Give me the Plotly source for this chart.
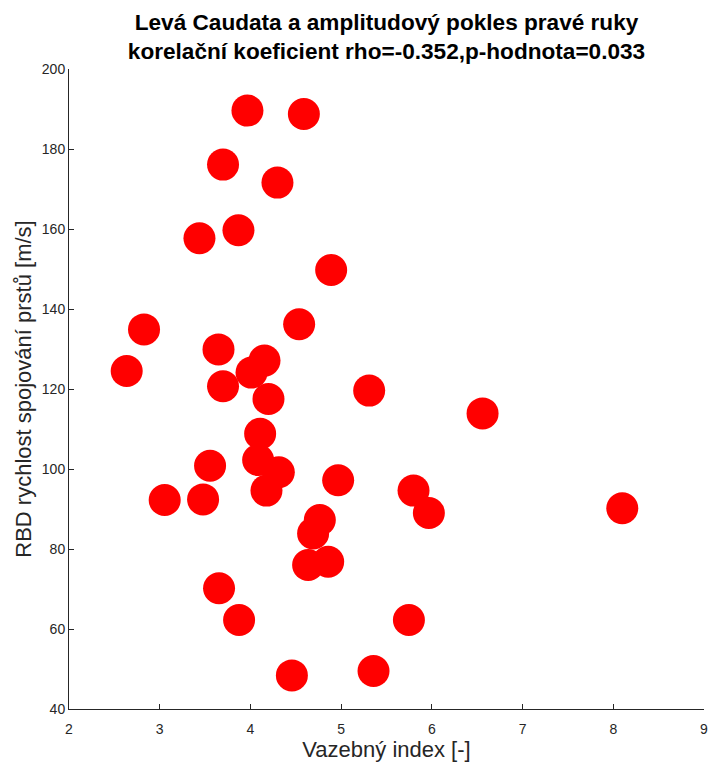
import plotly.graph_objects as go

# Coupling index (x) vs. RBD finger-tapping speed (y), one point per subject
vazebny_index = [
    3.967, 4.589, 3.698, 4.298, 3.868, 3.438, 4.890,
    2.827, 4.537, 3.648, 2.636, 4.155, 4.012, 3.698, 4.199,
    4.107, 3.555, 4.085, 4.313, 4.177, 3.055, 3.478,
    5.309, 6.559, 4.967, 5.798, 5.967, 4.765, 4.691, 4.857, 4.636,
    3.654, 3.875, 5.747, 8.099, 4.457, 5.357,
]
rychlost = [
    189.6, 188.75, 176.1, 171.6, 159.7, 157.7, 149.75,
    134.9, 136.2, 129.9, 124.5, 127.1, 124.1, 120.7, 117.5,
    108.8, 100.8, 102.25, 99.2, 94.6, 92.25, 92.4,
    119.6, 113.9, 97.2, 94.6, 89.0, 87.25, 83.9, 76.8, 76.0,
    70.2, 62.25, 62.25, 90.2, 48.4, 49.5,
]

x_ticks = [2, 3, 4, 5, 6, 7, 8, 9]
y_ticks = [40, 60, 80, 100, 120, 140, 160, 180, 200]

title_lines = [
    "Levá Caudata a amplitudový pokles pravé ruky",
    "korelační koeficient rho=-0.352,p-hodnota=0.033",
]
x_label = "Vazebný index [-]"
y_label = "RBD rychlost spojování prstů [m/s]"

AXIS_COLOR = "#262626"
FONT = "Liberation Sans, Arial, Helvetica, sans-serif"

fig = go.Figure(
    go.Scatter(
        x=vazebny_index,
        y=rychlost,
        mode="markers",
        marker=dict(color="#ff0000", size=32, line=dict(width=0)),
        hoverinfo="x+y",
        cliponaxis=False,
    )
)

axis_common = dict(
    showline=True,
    linecolor=AXIS_COLOR,
    linewidth=1,
    ticks="inside",
    ticklen=5,
    tickwidth=1,
    tickcolor=AXIS_COLOR,
    showgrid=False,
    zeroline=False,
    mirror=False,
    automargin=False,
    tickfont=dict(family=FONT, size=14, color=AXIS_COLOR),
)

fig.update_xaxes(
    range=[2, 9],
    tickvals=x_ticks,
    ticktext=[str(v) for v in x_ticks],
    ticklabelstandoff=7,
    title=dict(text=x_label, font=dict(family=FONT, size=22, color=AXIS_COLOR), standoff=4),
    **axis_common,
)
fig.update_yaxes(
    range=[40, 200],
    tickvals=y_ticks,
    ticktext=[str(v) for v in y_ticks],
    title=dict(text=y_label, font=dict(family=FONT, size=22, color=AXIS_COLOR), standoff=4),
    **axis_common,
)

fig.update_layout(
    width=710,
    height=763,
    autosize=False,
    margin=dict(l=69, r=6, t=69, b=54),
    paper_bgcolor="white",
    plot_bgcolor="white",
    showlegend=False,
    title=dict(
        text="<br>".join(f"<b>{t}</b>" for t in title_lines),
        font=dict(family=FONT, size=22.6, color="#000000"),
        x=0.5,
        xanchor="center",
        xref="paper",
        y=1 - 30 / 763,
        yanchor="middle",
    ),
)

fig.write_html("out.html")
